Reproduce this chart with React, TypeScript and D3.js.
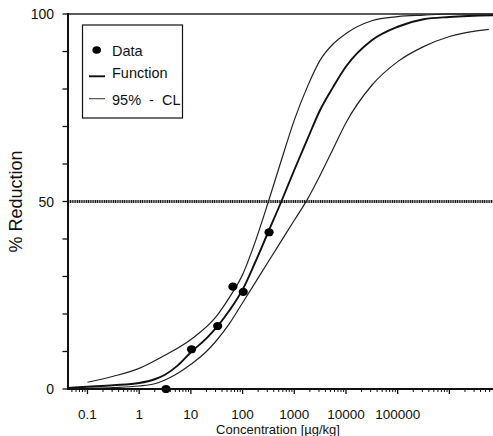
import * as d3 from "d3";

// measured points
const dataConc = [3.3, 10.3, 33, 65, 103, 325];
const dataReduction = [0, 10.6, 16.8, 27.3, 25.9, 41.8];

// fitted function
const fnConc = [0.042, 0.1, 0.316, 1, 2, 3.16, 5.6, 10, 20, 31.6, 56, 100, 178, 316, 562, 1000, 1778, 3162, 5623, 10000, 31623, 100000, 316228, 1000000, 10000000];
const fnReduction = [0.3, 0.6, 1.0, 1.6, 2.6, 3.8, 6.3, 9.8, 13.5, 16.5, 21, 26.5, 34, 42, 50, 58.4, 66.5, 74.4, 80.5, 86, 93, 96.6, 98.6, 99.2, 99.7];

// 95% confidence limits
const upperConc = [0.1, 0.316, 1, 3.16, 10, 31.6, 56, 100, 178, 316, 562, 1000, 1778, 3162, 5623, 10000, 31623, 100000, 316228, 1000000, 10000000];
const upperReduction = [1.8, 3.4, 5.5, 9.0, 13.2, 19.5, 24.5, 30.5, 39.5, 50, 61, 71.7, 80.5, 87.7, 92, 94.8, 98.2, 99.3, 99.7, 100, 100];
const lowerConc = [0.042, 0.1, 0.316, 1, 2, 3.16, 5.6, 10, 20, 31.6, 56, 100, 178, 316, 562, 1000, 1778, 3162, 5623, 10000, 31623, 100000, 316228, 1000000, 5800000];
const lowerReduction = [0.1, 0.2, 0.4, 0.8, 1.4, 2.4, 4.2, 6.6, 10, 13, 17.5, 23, 28.5, 34, 39.5, 45, 50.5, 57, 64, 71, 81, 87.3, 91.3, 94, 95.9];

const xTickLabels = ["0.1", "1", "10", "100", "1000", "10000", "100000"];
const yTickLabels = [0, 50, 100];
const legendLabels = ["Data", "Function", "95%  -  CL"];

const W = 493;
const H = 436;
const font = "'Liberation Sans', Arial, sans-serif";

export default function App() {
  const x = d3.scaleLog().domain([0.042, 1e7]).range([68, 501.1]);
  const y = d3.scaleLinear().domain([0, 100]).range([389, 14]);

  const line = d3
    .line<[number, number]>()
    .x((d) => x(d[0]))
    .y((d) => y(d[1]))
    .curve(d3.curveMonotoneX);

  const fnPath = line(fnConc.map((c, i) => [c, fnReduction[i]]));
  const upPath = line(upperConc.map((c, i) => [c, upperReduction[i]]));
  const loPath = line(lowerConc.map((c, i) => [c, lowerReduction[i]]));

  const majors = d3.range(-1, 7).map((k) => Math.pow(10, k));
  const minors: number[] = [];
  d3.range(-2, 7).forEach((k) => {
    d3.range(2, 10).forEach((m) => {
      const v = m * Math.pow(10, k);
      if (x(v) >= 68 && x(v) <= W) minors.push(v);
    });
  });
  const yTicks = d3.range(0, 101, 10);

  return (
    <svg
      width={W}
      height={H}
      style={{ position: "absolute", left: 0, top: 0, background: "#fff" }}
      fontFamily={font}
    >
      {/* 50% reference line */}
      <line x1={68} x2={W} y1={y(50)} y2={y(50)} stroke="#1a1a1a" strokeWidth={2.8} strokeDasharray="1.2 0.6" />

      {/* curves */}
      <path d={upPath ?? ""} fill="none" stroke="#222" strokeWidth={1.2} />
      <path d={loPath ?? ""} fill="none" stroke="#222" strokeWidth={1.2} />
      <path d={fnPath ?? ""} fill="none" stroke="#111" strokeWidth={1.9} />

      {/* data */}
      {dataConc.map((c, i) => (
        <ellipse key={i} cx={x(c)} cy={y(dataReduction[i])} rx={4.6} ry={4.1} fill="#000" />
      ))}

      {/* frame / axes */}
      <line x1={68} x2={W} y1={14} y2={14} stroke="#222" strokeWidth={1.6} />
      <line x1={68} x2={W} y1={389} y2={389} stroke="#111" strokeWidth={2.2} />
      <line x1={68} x2={68} y1={13} y2={390} stroke="#111" strokeWidth={2} />

      {yTicks.map((t) => (
        <line key={t} x1={62.5} x2={68} y1={y(t)} y2={y(t)} stroke="#111" strokeWidth={1.3} />
      ))}
      {yTickLabels.map((t) => (
        <text key={t} x={54} y={y(t)} dy="0.36em" textAnchor="end" fontSize={14} fill="#111">
          {t}
        </text>
      ))}

      {majors.map((v) => (
        <line key={v} x1={x(v)} x2={x(v)} y1={389} y2={394} stroke="#111" strokeWidth={1.3} />
      ))}
      {minors.map((v) => (
        <line key={v} x1={x(v)} x2={x(v)} y1={389} y2={392} stroke="#111" strokeWidth={1} />
      ))}
      {xTickLabels.map((t) => (
        <text key={t} x={x(+t)} y={418.5} textAnchor="middle" fontSize={13.5} fill="#111">
          {t}
        </text>
      ))}

      <text x={278} y={434} textAnchor="middle" fontSize={13} fill="#111">
        Concentration [µg/kg]
      </text>
      <text
        transform={`translate(22, ${y(50)}) rotate(-90)`}
        textAnchor="middle"
        fontSize={18}
        fill="#111"
      >
        % Reduction
      </text>

      {/* legend */}
      <rect x={82.5} y={25} width={100} height={93} fill="#fff" stroke="#111" strokeWidth={1.2} />
      <ellipse cx={96.7} cy={50} rx={4.3} ry={3.8} fill="#000" />
      <line x1={89} x2={105} y1={76.3} y2={76.3} stroke="#111" strokeWidth={1.9} />
      <line x1={89} x2={105} y1={98.7} y2={98.7} stroke="#444" strokeWidth={1.1} />
      {legendLabels.map((l, i) => (
        <text
          key={l}
          x={112}
          y={[55.5, 78, 105][i]}
          fontSize={14.5}
          fill="#111"
          style={{ whiteSpace: "pre" }}
        >
          {l}
        </text>
      ))}
    </svg>
  );
}
